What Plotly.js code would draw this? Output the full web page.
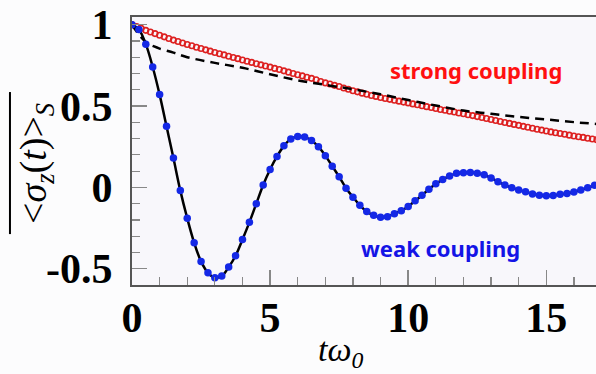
<!DOCTYPE html>
<html>
<head>
<meta charset="utf-8">
<script src="https://cdn.plot.ly/plotly-3.0.1.min.js"></script>
<style>
html,body{margin:0;padding:0;background:#fcfcfd;}
#chart{width:596px;height:374px;}
</style>
</head>
<body>
<div id="chart"></div>
<script>
// weak coupling (simulation dots + exact line)
const tWeak = [0,0.25,0.5,0.75,1,1.25,1.5,1.75,2,2.25,2.5,2.75,3,3.25,3.5,3.75,4,4.25,4.5,4.75,5,5.25,5.5,5.75,6,6.25,6.5,6.75,7,7.25,7.5,7.75,8,8.25,8.5,8.75,9,9.25,9.5,9.75,10,10.25,10.5,10.75,11,11.25,11.5,11.75,12,12.25,12.5,12.75,13,13.25,13.5,13.75,14,14.25,14.5,14.75,15,15.25,15.5,15.75,16,16.25,16.5,16.75,17];
const yWeak = [1.0,0.97,0.88,0.74,0.57,0.375,0.18,-0.02,-0.19,-0.34,-0.455,-0.525,-0.555,-0.545,-0.49,-0.42,-0.32,-0.215,-0.10,0.015,0.11,0.19,0.255,0.297,0.313,0.31,0.288,0.25,0.195,0.13,0.065,-0.005,-0.06,-0.11,-0.148,-0.172,-0.183,-0.18,-0.162,-0.143,-0.117,-0.083,-0.048,-0.012,0.022,0.048,0.07,0.086,0.09,0.091,0.086,0.077,0.058,0.035,0.014,-0.002,-0.016,-0.027,-0.04,-0.048,-0.052,-0.05,-0.043,-0.037,-0.028,-0.016,-0.003,0.013,0.025];

// strong coupling (open circles)
const tStrong = [0,0.167,0.333,0.5,0.667,0.833,1,1.167,1.333,1.5,1.667,1.833,2,2.167,2.333,2.5,2.667,2.833,3,3.167,3.333,3.5,3.667,3.833,4,4.167,4.333,4.5,4.667,4.833,5,5.167,5.333,5.5,5.667,5.833,6,6.167,6.333,6.5,6.667,6.833,7,7.167,7.333,7.5,7.667,7.833,8,8.167,8.333,8.5,8.667,8.833,9,9.167,9.333,9.5,9.667,9.833,10,10.167,10.333,10.5,10.667,10.833,11,11.167,11.333,11.5,11.667,11.833,12,12.167,12.333,12.5,12.667,12.833,13,13.167,13.333,13.5,13.667,13.833,14,14.167,14.333,14.5,14.667,14.833,15,15.167,15.333,15.5,15.667,15.833,16,16.167,16.333,16.5,16.667,16.833];
const yStrong = [1.000,0.988,0.977,0.965,0.955,0.945,0.935,0.925,0.915,0.905,0.896,0.887,0.878,0.870,0.861,0.853,0.845,0.837,0.829,0.821,0.814,0.806,0.798,0.791,0.783,0.775,0.768,0.760,0.753,0.746,0.739,0.731,0.724,0.716,0.708,0.700,0.692,0.685,0.677,0.670,0.661,0.651,0.642,0.635,0.627,0.620,0.611,0.603,0.594,0.587,0.579,0.572,0.565,0.559,0.552,0.546,0.541,0.535,0.530,0.524,0.519,0.513,0.508,0.502,0.496,0.491,0.485,0.479,0.474,0.468,0.463,0.457,0.452,0.446,0.441,0.435,0.429,0.423,0.417,0.411,0.405,0.399,0.393,0.387,0.381,0.375,0.369,0.363,0.357,0.352,0.346,0.341,0.336,0.331,0.326,0.321,0.316,0.311,0.307,0.302,0.297,0.293];

// dashed reference curve
const tDash = [0,0.2,0.4,0.6,0.8,1,1.5,2,3,4,5,6,7,8,9,10,11,12,13,14,15,16,17];
const yDash = [1.0,0.95,0.91,0.882,0.866,0.853,0.828,0.8,0.765,0.735,0.695,0.658,0.63,0.603,0.572,0.537,0.503,0.472,0.452,0.433,0.417,0.401,0.387];

const xTickVals = [0,5,10,15];
const xTickText = ['0','5','10','15'];
const yTickVals = [-0.5,0,0.5,1];
const yTickText = ['-0.5','0','0.5','1'];

const traces = [
  {x:tStrong, y:yStrong, type:'scatter', mode:'markers',
   marker:{symbol:'circle-open', size:5.5, color:'#dd2020', line:{width:1.6, color:'#dd2020'}}},
  {x:tDash, y:yDash, type:'scatter', mode:'lines', line:{color:'#000', width:2.5, dash:'9px,6px', shape:'spline'}},
  {x:tWeak, y:yWeak, type:'scatter', mode:'lines', line:{color:'#000', width:2.5, shape:'spline'}},
  {x:tWeak, y:yWeak, type:'scatter', mode:'markers', marker:{size:7.5, color:'#1428e6'}}
];

const tickFont = {family:'Liberation Serif, serif', size:42, color:'#000', weight:'bold'};

const layout = {
  width:596, height:374,
  margin:{l:132, r:0, t:17, b:89},
  paper_bgcolor:'#fcfcfd', plot_bgcolor:'#f8f7fb',
  showlegend:false,
  xaxis:{range:[0,16.8], showgrid:false, zeroline:false,
    showline:true, linecolor:'#555', linewidth:2, mirror:true,
    tickmode:'array', tickvals:xTickVals, ticktext:xTickText,
    ticks:'inside', ticklen:15, tickwidth:1.5, tickcolor:'#888',
    minor:{dtick:1, ticks:'inside', ticklen:8, tickwidth:1.2, tickcolor:'#888', showgrid:false},
    tickfont:tickFont, ticklabelstandoff:-5},
  yaxis:{range:[-0.6,1.047], showgrid:false, zeroline:false,
    showline:true, linecolor:'#555', linewidth:2,
    tickmode:'array', tickvals:yTickVals, ticktext:yTickText,
    ticks:'inside', ticklen:15, tickwidth:1.5, tickcolor:'#888',
    minor:{dtick:0.1, tick0:0, ticks:'inside', ticklen:8, tickwidth:1.2, tickcolor:'#888', showgrid:false},
    tickfont:tickFont, ticklabelstandoff:9},
  shapes:[
    {type:'line', xref:'paper', yref:'paper', x0:-0.263, x1:-0.263, y0:0.19, y1:0.72,
     line:{color:'#000', width:2}}
  ],
  annotations:[
    {text:'strong coupling', xref:'paper', yref:'paper', x:0.741, y:0.802, xanchor:'center', yanchor:'middle', showarrow:false,
     font:{family:'Noto Sans, sans-serif', size:22, color:'#ff1010', weight:'bold'}},
    {text:'weak coupling', xref:'paper', yref:'paper', x:0.664, y:0.138, xanchor:'center', yanchor:'middle', showarrow:false,
     font:{family:'Noto Sans, sans-serif', size:22, color:'#1414e6', weight:'bold'}},
    {text:'<i>tω<sub>0</sub></i>', xref:'paper', yref:'paper', x:0.45, y:-0.25, xanchor:'center', yanchor:'middle', showarrow:false,
     font:{family:'Liberation Serif, serif', size:34, color:'#000'}},
    {text:"&lt;<i>σ<sub>z</sub></i>(<i>t</i>)&gt;<sub><i>S</i></sub>",
     xref:'paper', yref:'paper', x:-0.207, y:0.455, xanchor:'center', yanchor:'middle', textangle:-90, showarrow:false,
     font:{family:'Liberation Serif, serif', size:38, color:'#000'}}
  ]
};

Plotly.newPlot('chart', traces, layout, {displayModeBar:false, staticPlot:true});
</script>
</body>
</html>
